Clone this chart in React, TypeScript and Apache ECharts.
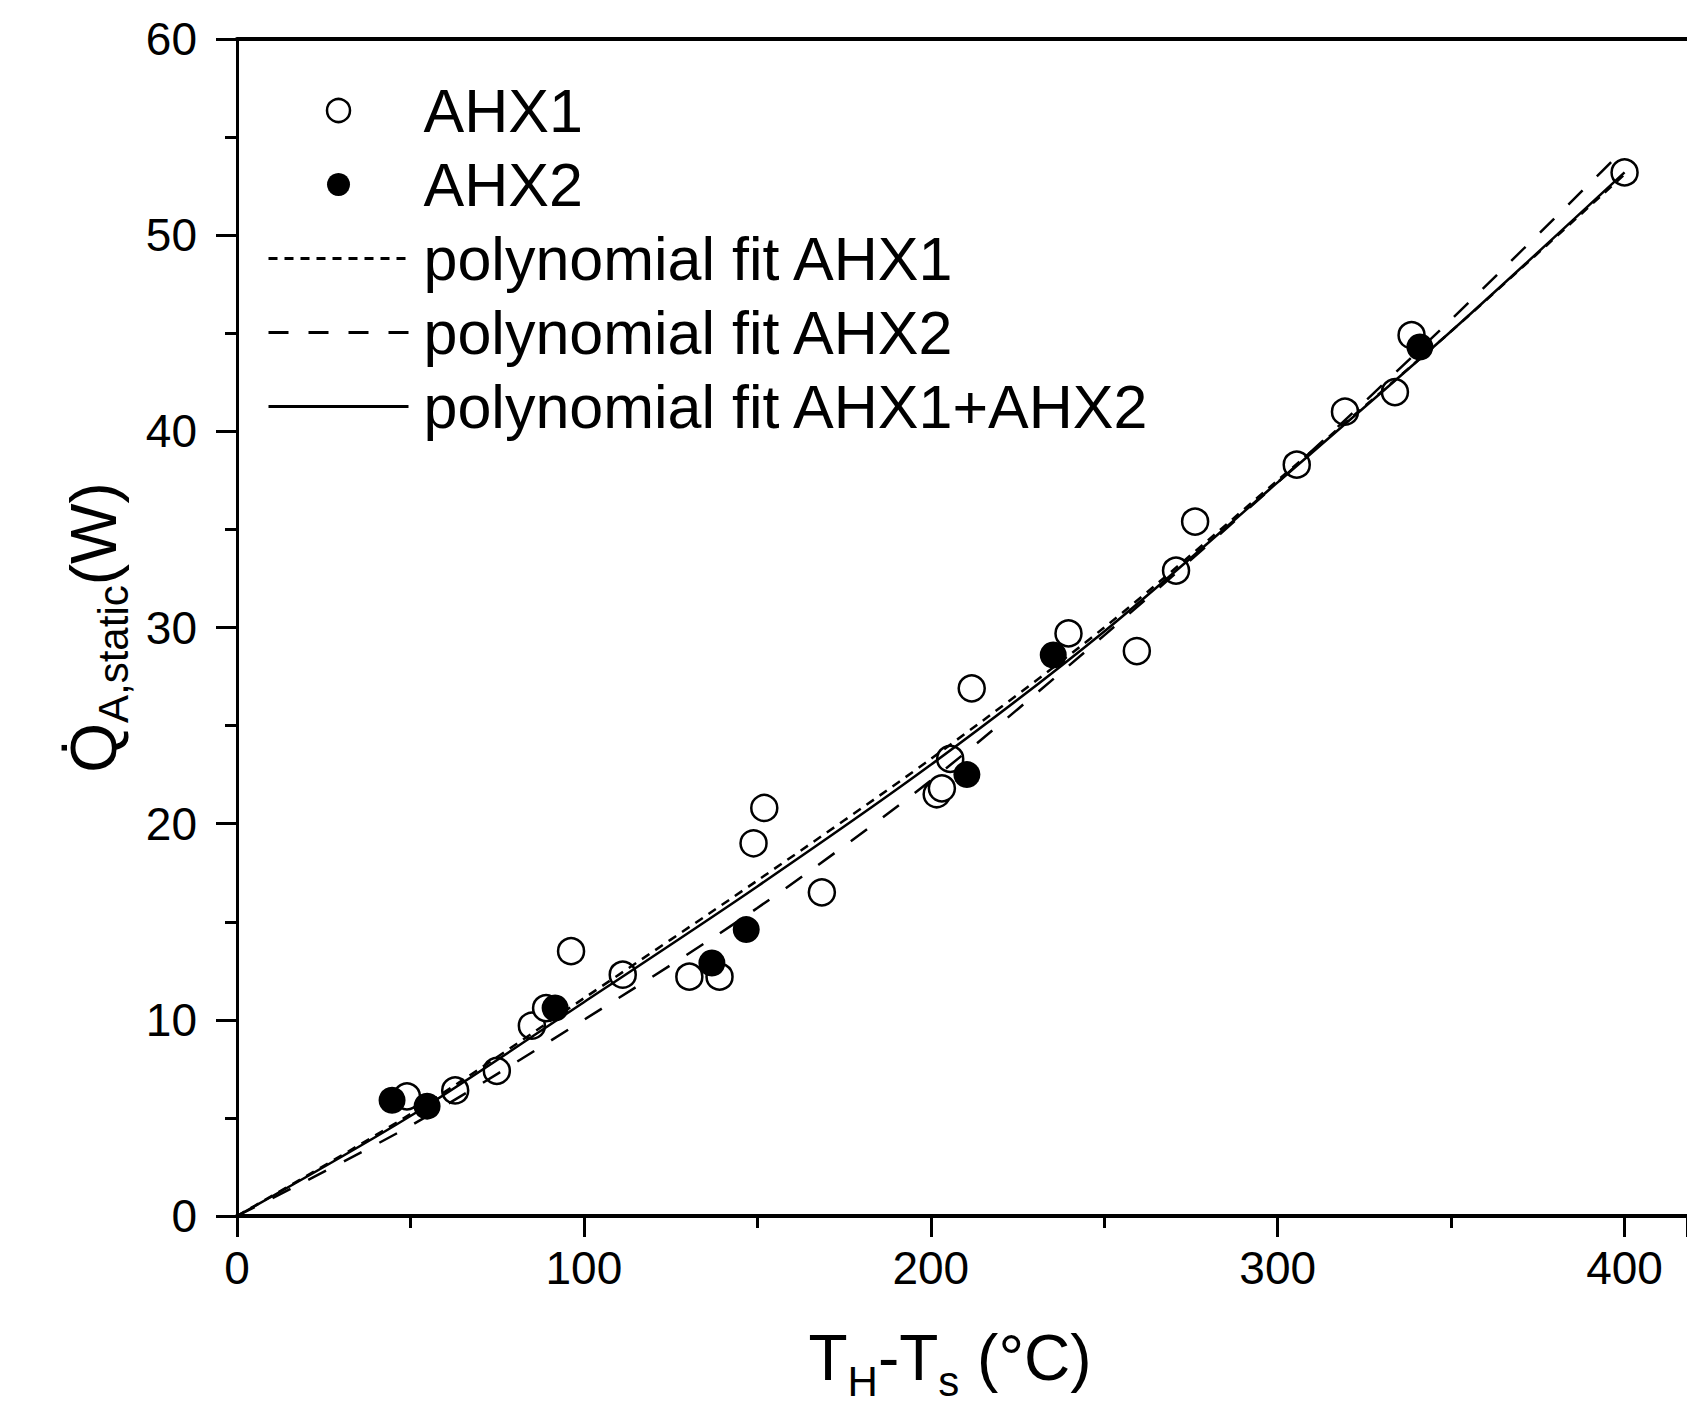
import React, { useEffect, useRef } from 'react';
import * as echarts from 'echarts';

// Measured points (x: T_H - T_s in °C, y: Q in W)
const ahx1Points: [number, number][] = [
  [49.0, 6.1], [62.9, 6.4], [74.9, 7.4], [85.0, 9.7], [89.1, 10.6], [96.3, 13.5],
  [111.2, 12.3], [130.4, 12.2], [139.1, 12.2], [148.9, 19.0], [152.0, 20.8], [168.6, 16.5],
  [201.7, 21.5], [203.2, 21.8], [205.6, 23.3], [211.8, 26.9], [239.7, 29.7], [259.4, 28.8],
  [270.7, 32.9], [276.2, 35.4], [305.5, 38.3], [319.4, 41.0], [333.8, 42.0], [338.6, 44.9],
  [400.0, 53.2],
];
const ahx2Points: [number, number][] = [
  [44.7, 5.9], [54.8, 5.6], [91.7, 10.6], [136.9, 12.9], [146.8, 14.6],
  [210.4, 22.5], [235.3, 28.6], [341.0, 44.3],
];

// Fit curves
const fitX = [0, 50, 100, 150, 200, 250, 300, 350, 400];
const fitAHX1 = [0, 5.2, 11.1, 17.1, 23.3, 30.0, 37.5, 45.1, 53.1];
const fitAHX2 = [0, 4.6, 10.0, 15.7, 22.2, 29.6, 37.4, 45.7, 54.4];
const fitBoth = [0, 5.1, 10.9, 16.8, 23.0, 29.8, 37.4, 45.1, 53.2];

const seriesNames = [
  'AHX1',
  'AHX2',
  'polynomial fit AHX1',
  'polynomial fit AHX2',
  'polynomial fit AHX1+AHX2',
];

const FONT = "'Liberation Sans', Arial, Helvetica, sans-serif";

export default function App() {
  const ref = useRef<HTMLDivElement>(null);

  useEffect(() => {
    const chart = echarts.init(ref.current as HTMLDivElement, null, { renderer: 'svg' });
    const pair = (ys: number[]) => fitX.map((x, i) => [x, ys[i]]);
    const axisTextCommon = { fontFamily: FONT, color: '#000' };

    chart.setOption({
      animation: false,
      backgroundColor: '#fff',
      grid: {
        left: 237,
        right: 0,
        top: 39,
        bottom: 190,
        containLabel: false,
        outerBoundsMode: 'none',
      },
      legend: {
        orient: 'vertical',
        left: 267,
        top: 80,
        padding: 0,
        itemWidth: 140,
        itemHeight: 23,
        itemGap: 13,
        selectedMode: false,
        data: [
          { name: seriesNames[0], itemStyle: { borderWidth: 2.5 } },
          { name: seriesNames[1] },
          { name: seriesNames[2], itemStyle: { opacity: 0 }, lineStyle: { width: 3 } },
          { name: seriesNames[3], itemStyle: { opacity: 0 }, lineStyle: { width: 3 } },
          { name: seriesNames[4], itemStyle: { opacity: 0 }, lineStyle: { width: 3 } },
        ],
        formatter: (n: string) => `{t|${n}}`,
        textStyle: {
          ...axisTextCommon,
          fontSize: 61,
          rich: { t: { ...axisTextCommon, fontSize: 61, lineHeight: 60, padding: [0, 0, 0, 10] } },
        },
      },
      xAxis: [
        {
          type: 'value',
          position: 'bottom',
          min: 0,
          max: 418,
          interval: 100,
          axisLine: { show: true, onZero: false, lineStyle: { color: '#000', width: 4 } },
          axisTick: { show: true, length: 21, lineStyle: { color: '#000', width: 3 } },
          minorTick: { show: true, splitNumber: 2, length: 12, lineStyle: { color: '#000', width: 3 } },
          axisLabel: { ...axisTextCommon, fontSize: 46, margin: 29 },
          splitLine: { show: false },
          name: '{b|T}{s|H}{b|-T}{s|s}{b| (°C)}',
          nameLocation: 'middle',
          nameGap: 98,
          nameTextStyle: {
            ...axisTextCommon,
            fontSize: 64,
            padding: [0, 24, 0, 0],
            rich: {
              b: { ...axisTextCommon, fontSize: 64 },
              s: { ...axisTextCommon, fontSize: 42, padding: [46, 0, 0, 0] },
            },
          },
        },
        {
          type: 'value',
          position: 'top',
          min: 0,
          max: 418,
          axisLine: { show: true, onZero: false, lineStyle: { color: '#000', width: 4 } },
          axisTick: { show: false },
          axisLabel: { show: false },
          splitLine: { show: false },
        },
      ],
      yAxis: {
        type: 'value',
        min: 0,
        max: 60,
        interval: 10,
        axisLine: { show: true, onZero: false, lineStyle: { color: '#000', width: 3 } },
        axisTick: { show: true, length: 21, lineStyle: { color: '#000', width: 3 } },
        minorTick: { show: true, splitNumber: 2, length: 12, lineStyle: { color: '#000', width: 3 } },
        axisLabel: { ...axisTextCommon, fontSize: 46, margin: 40 },
        splitLine: { show: false },
        name: '{b|Q\u0307}{s|A,static}{b|(W)}',
        nameLocation: 'middle',
        nameRotate: 90,
        nameGap: 93,
        nameTextStyle: {
          ...axisTextCommon,
          fontSize: 64,
          rich: {
            b: { ...axisTextCommon, fontSize: 64 },
            s: { ...axisTextCommon, fontSize: 42, padding: [40, 0, 0, 0] },
          },
        },
      },
      series: [
        {
          name: seriesNames[0],
          type: 'scatter',
          xAxisIndex: 0,
          data: ahx1Points,
          symbol: 'circle',
          symbolSize: 26,
          itemStyle: { color: '#fff', borderColor: '#000', borderWidth: 2.5, opacity: 1 },
        },
        {
          name: seriesNames[1],
          type: 'scatter',
          xAxisIndex: 0,
          data: ahx2Points,
          symbol: 'circle',
          symbolSize: 27,
          itemStyle: { color: '#000', opacity: 1 },
        },
        {
          name: seriesNames[2],
          type: 'line',
          xAxisIndex: 0,
          data: pair(fitAHX1),
          smooth: 0.3,
          symbol: 'none',
          itemStyle: { color: '#000' },
          lineStyle: { color: '#000', width: 2.5, type: [9, 7] },
        },
        {
          name: seriesNames[3],
          type: 'line',
          xAxisIndex: 0,
          data: pair(fitAHX2),
          smooth: 0.3,
          symbol: 'none',
          itemStyle: { color: '#000' },
          lineStyle: { color: '#000', width: 2.5, type: [20, 20] },
        },
        {
          name: seriesNames[4],
          type: 'line',
          xAxisIndex: 0,
          data: pair(fitBoth),
          smooth: 0.3,
          symbol: 'none',
          itemStyle: { color: '#000' },
          lineStyle: { color: '#000', width: 2.5, type: 'solid' },
        },
      ],
    });
    return () => chart.dispose();
  }, []);

  return (
    <div
      ref={ref}
      style={{ position: 'absolute', left: 0, top: 0, width: 1687, height: 1406, background: '#fff' }}
    />
  );
}
